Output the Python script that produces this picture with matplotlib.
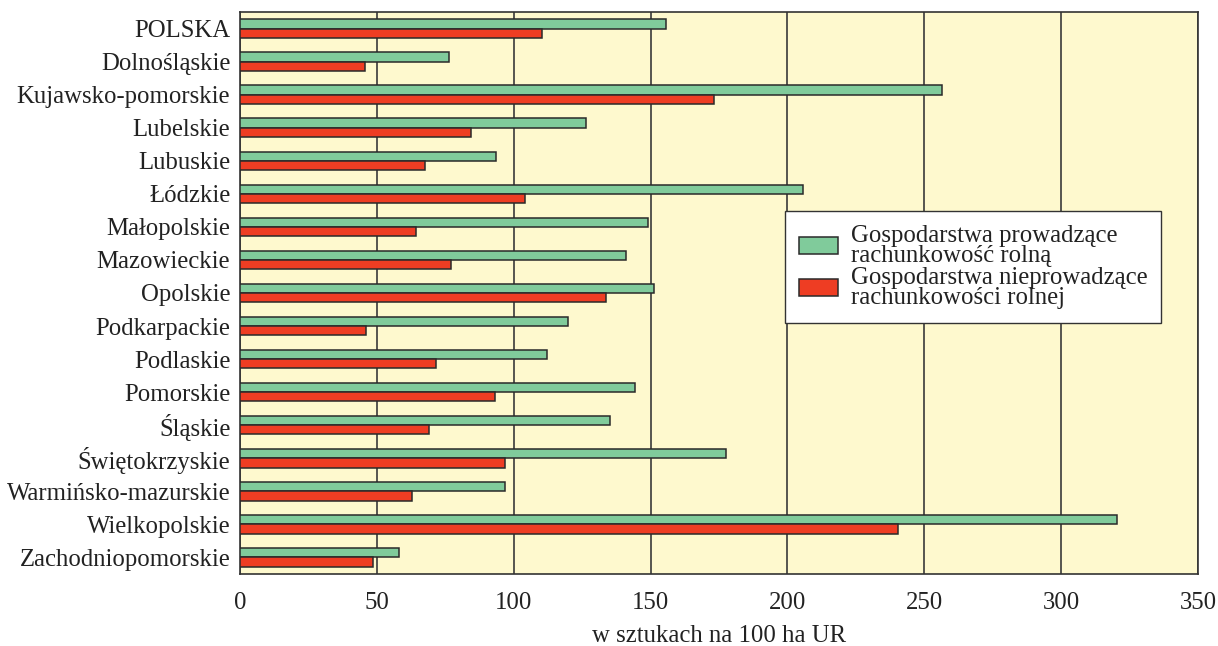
import matplotlib
matplotlib.use("Agg")
import matplotlib.pyplot as plt
import numpy as np

categories = ["POLSKA", "Dolnośląskie", "Kujawsko-pomorskie", "Lubelskie", "Lubuskie",
              "Łódzkie", "Małopolskie", "Mazowieckie", "Opolskie", "Podkarpackie",
              "Podlaskie", "Pomorskie", "Śląskie", "Świętokrzyskie",
              "Warmińsko-mazurskie", "Wielkopolskie", "Zachodniopomorskie"]
prowadzace = [155.5, 76.3, 256.3, 126.5, 93.4, 205.8, 149.2, 141.1, 151.2, 119.8,
              112.1, 144.2, 135.3, 177.5, 96.9, 320.5, 58.2]
nieprowadzace = [110.4, 45.5, 173.1, 84.3, 67.5, 104.2, 64.4, 77.2, 133.6, 46.1,
                 71.7, 93.1, 69.2, 96.9, 63.0, 240.4, 48.6]
series_labels = ["Gospodarstwa prowadzące\nrachunkowość rolną",
                 "Gospodarstwa nieprowadzące\nrachunkowości rolnej"]
xticks = [0, 50, 100, 150, 200, 250, 300, 350]
xlabel = "w sztukach na 100 ha UR"

plt.rcParams['font.family'] = ['Liberation Serif', 'DejaVu Serif']
FS = 17.8

fig = plt.figure(figsize=(12.18, 6.46), dpi=100)
ax = fig.add_axes([240/1218, 1 - 574/646, (1198-240)/1218, (574-12)/646])
ax.set_facecolor('#FEF9CE')

n = len(categories)
y = np.arange(n)
h = 0.28
green = '#80CB9B'
red = '#EE3D23'
edge = '#2a2a2a'
ax.barh(y - h/2, prowadzace, height=h, color=green, edgecolor=edge, linewidth=1.1,
        label=series_labels[0], zorder=3)
ax.barh(y + h/2, nieprowadzace, height=h, color=red, edgecolor=edge, linewidth=1.1,
        label=series_labels[1], zorder=3)

ax.set_ylim(n - 0.5, -0.5)
ax.set_xlim(0, 350)
ax.set_yticks(y)
ax.set_yticklabels(categories, fontsize=FS, color='#222222')
ax.set_xticks(xticks)
ax.set_xticklabels([str(t) for t in xticks], fontsize=FS, color='#222222')
ax.tick_params(axis='both', length=0)
ax.tick_params(axis='y', pad=7)
ax.tick_params(axis='x', pad=13)
ax.xaxis.grid(True, color='#3a3a3a', linewidth=1.2, zorder=1)
ax.set_axisbelow(True)
for s in ax.spines.values():
    s.set_color('#333333')
    s.set_linewidth(1.2)
ax.set_xlabel(xlabel, fontsize=FS, color='#222222', labelpad=8)

leg = ax.legend(loc='upper left', bbox_to_anchor=((785-240)/958, 1 - (211-12)/562),
                fontsize=FS, frameon=True, fancybox=False, edgecolor='#333333',
                framealpha=1, handlelength=1.58, handleheight=0.69, labelspacing=0.0,
                borderpad=0.55, handletextpad=0.53, borderaxespad=0)
leg.get_frame().set_linewidth(1.0)
for t in leg.get_texts():
    t.set_linespacing(0.9)
    t.set_color('#222222')

fig.savefig('out.png', dpi=100, facecolor='white')
